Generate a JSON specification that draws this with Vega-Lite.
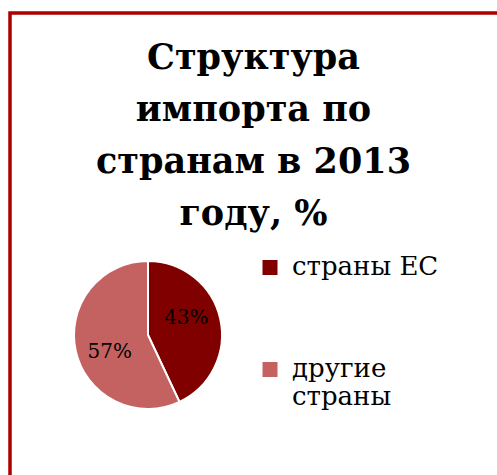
{
  "$schema": "https://vega.github.io/schema/vega-lite/v6.json",
  "width": 487,
  "height": 462,
  "autosize": {"type": "none"},
  "padding": {"left": 10, "top": 13, "right": 0, "bottom": 0},
  "background": "white",
  "view": {"stroke": "#AA0000", "strokeWidth": 3.5, "strokeDash": [487, 949]},
  "title": {
    "text": ["Структура", "импорта по", "странам в 2013", "году, %"],
    "font": "DejaVu Serif",
    "fontSize": 35,
    "fontWeight": "bold",
    "color": "black",
    "lineHeight": 52,
    "baseline": "alphabetic",
    "anchor": "middle",
    "frame": "group",
    "offset": 0,
    "dy": 247
  },
  "data": {"values": [
    {"group": "страны ЕС", "share": 0.43},
    {"group": "другие страны", "share": 0.57}
  ]},
  "layer": [
    {
      "mark": {"type": "arc", "outerRadius": 74, "stroke": "white", "strokeWidth": 2, "xOffset": -105.5, "yOffset": 91},
      "encoding": {
        "theta": {"field": "share", "type": "quantitative", "stack": true},
        "order": {"field": "share", "sort": "ascending"},
        "color": {
          "field": "group", "type": "nominal",
          "scale": {"domain": ["страны ЕС", "другие страны"], "range": ["#800000", "#C46262"]},
          "legend": {
            "title": null, "orient": "none", "legendX": 247, "legendY": 249,
            "symbolType": "M-1,-2H1V0H-1Z", "symbolSize": 225, "symbolStrokeWidth": 0,
            "labelFont": "DejaVu Serif", "labelFontSize": 26, "labelColor": "black",
            "labelBaseline": "alphabetic", "rowPadding": 76, "labelLimit": 300, "labelOffset": 9,
            "labelLineHeight": 34,
            "labelExpr": "datum.label == 'другие страны' ? ['другие', 'страны'] : datum.label"
          }
        }
      }
    },
    {
      "mark": {"type": "text", "radius": 42, "thetaOffset": -0.2, "xOffset": -105.5, "yOffset": 91, "font": "DejaVu Serif", "fontSize": 20, "color": "black"},
      "encoding": {
        "theta": {"field": "share", "type": "quantitative", "stack": true},
        "order": {"field": "share", "sort": "ascending"},
        "text": {"field": "share", "type": "quantitative", "format": ".0%"}
      }
    }
  ]
}
